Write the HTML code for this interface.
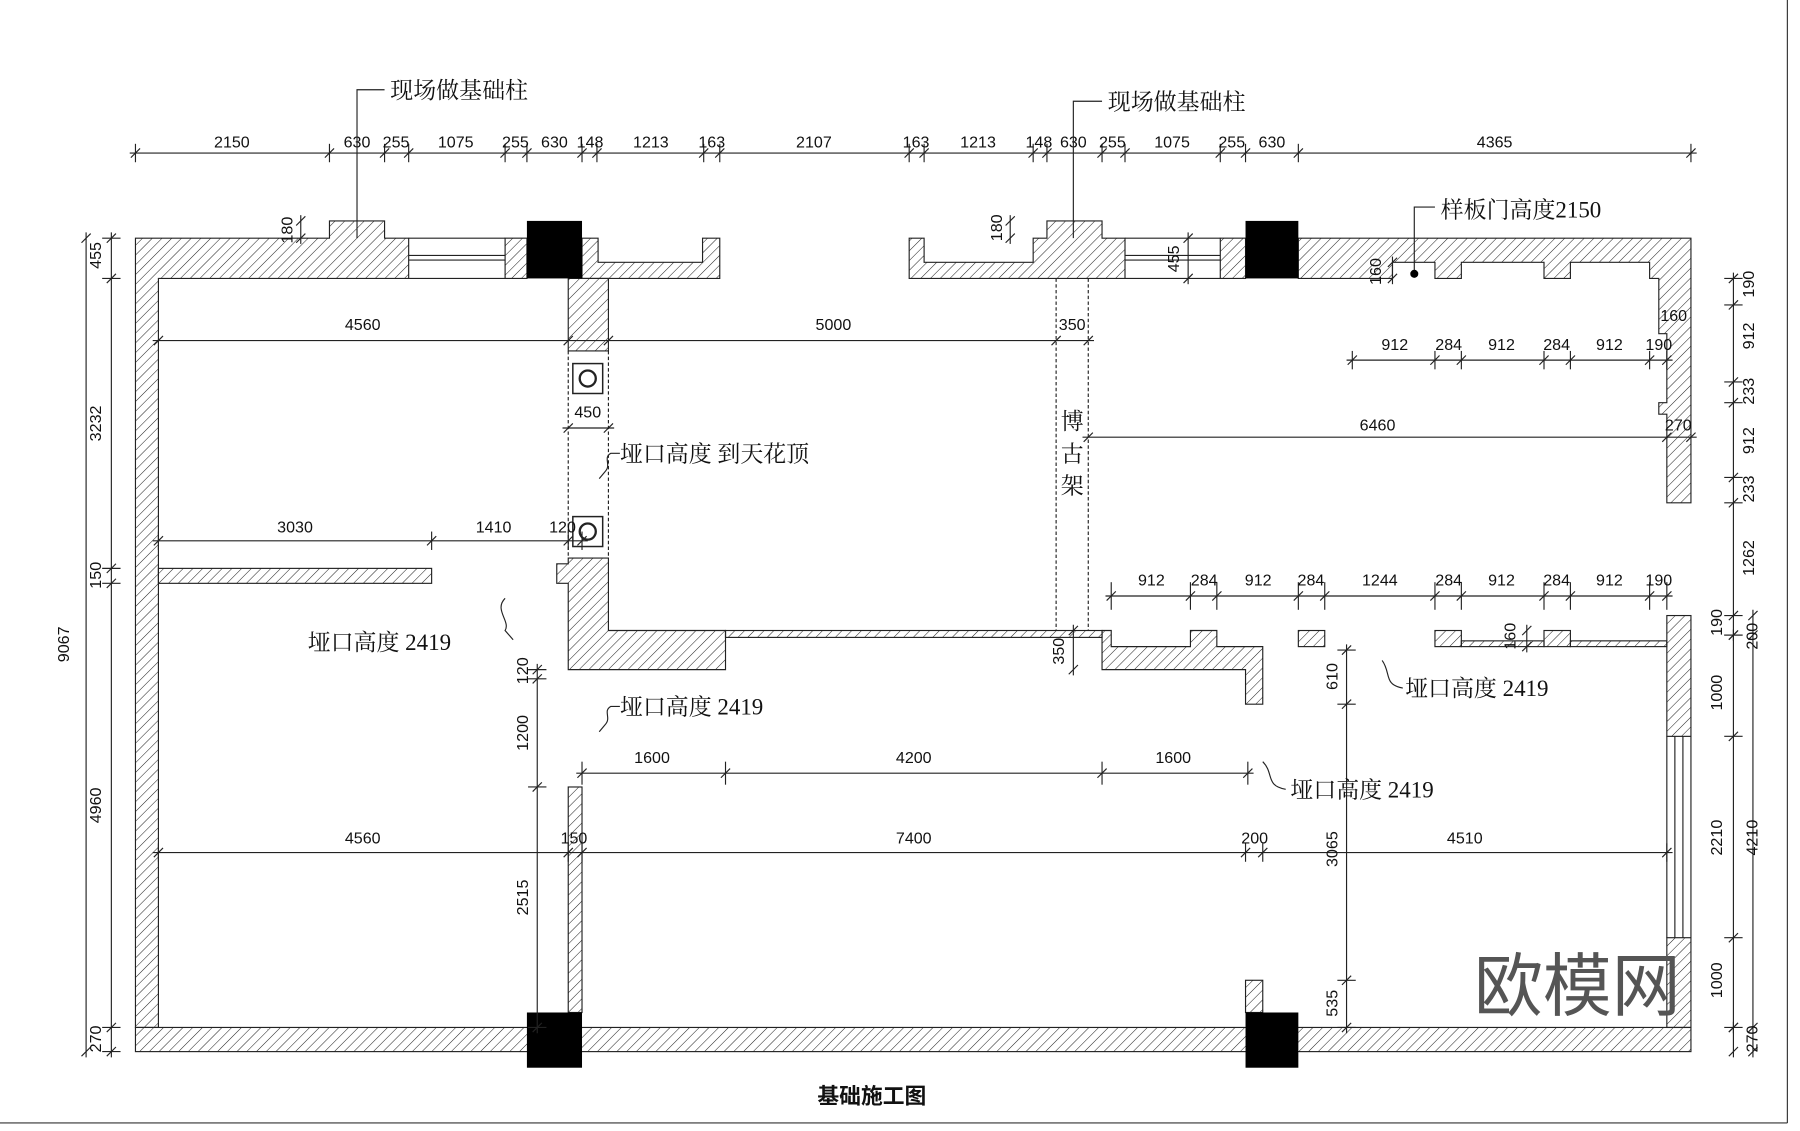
<!DOCTYPE html>
<html><head><meta charset="utf-8">
<style>
html,body{margin:0;padding:0;background:#fff;}
svg{display:block;}
.d{font-family:"Liberation Sans",sans-serif;font-size:14px;fill:#111;text-anchor:middle;}
.c{font-family:"Liberation Serif","Noto Serif CJK SC",serif;font-size:20px;fill:#111;}
</style></head>
<body>
<svg id="s" width="1800" height="1131" viewBox="0 0 1568 983" preserveAspectRatio="none" xmlns="http://www.w3.org/2000/svg">
<defs>
<pattern id="h" width="6" height="6" patternUnits="userSpaceOnUse" patternTransform="rotate(45)">
<line x1="0" y1="0" x2="0" y2="6" stroke="#222" stroke-width="0.9"/>
</pattern>
</defs>
<rect width="1568" height="983" fill="#fff"/>
<line x1="1557" y1="0" x2="1557" y2="976" stroke="#333"/>
<line x1="0" y1="976" x2="1557" y2="976" stroke="#333"/>

<g fill="url(#h)" stroke="#222" stroke-width="1">
<path d="M118 207 H287 V192 H335 V207 H356 V242 H138 V893 H118 Z"/>
<rect x="440" y="207" width="19" height="35"/>
<path d="M507 207 H521 V228 H612 V207 H627 V242 H507 Z"/>
<rect x="118" y="893" width="1355" height="21"/>
<rect x="495" y="242" width="35" height="63"/>
<path d="M495 485 H530 V548 H632 V582 H495 V507 H485 V490 H495 Z"/>
<rect x="632" y="548" width="328" height="6"/>
<rect x="138" y="494" width="238" height="13"/>
<rect x="495" y="684" width="12" height="196"/>
<rect x="1085" y="852" width="15" height="28"/>
<path d="M960 548 H968 V562 H1037 V548 H1060 V562 H1100 V612 H1085 V582 H960 Z"/>
<rect x="1131" y="548" width="23" height="14"/>
<rect x="1250" y="548" width="23" height="14"/>
<rect x="1273" y="557" width="72" height="5"/>
<rect x="1345" y="548" width="23" height="14"/>
<rect x="1368" y="557" width="84" height="5"/>
<path d="M792 207 H805 V228 H900 V207 H912 V192 H960 V207 H980 V242 H792 Z"/>
<rect x="1063" y="207" width="22" height="35"/>
<path d="M1131 207 H1473 V437 H1452 V360 H1445 V350 H1452 V290 H1445 V242 H1437 V228 H1368 V242 H1345 V228 H1273 V242 H1250 V228 H1213 V242 H1131 Z"/>
<rect x="1452" y="535" width="21" height="105"/>
<rect x="1452" y="815" width="21" height="78"/>
</g>
<g stroke="#222" fill="none" stroke-width="1">
<line x1="356" y1="207" x2="440" y2="207"/><line x1="356" y1="242" x2="440" y2="242"/>
<line x1="356" y1="222" x2="440" y2="222"/><line x1="356" y1="226" x2="440" y2="226"/>
<line x1="980" y1="207" x2="1063" y2="207"/><line x1="980" y1="242" x2="1063" y2="242"/>
<line x1="980" y1="222" x2="1063" y2="222"/><line x1="980" y1="226" x2="1063" y2="226"/>
<line x1="1452" y1="640" x2="1452" y2="815"/><line x1="1473" y1="640" x2="1473" y2="815"/>
<line x1="1459" y1="640" x2="1459" y2="815"/><line x1="1466" y1="640" x2="1466" y2="815"/>
<line x1="495" y1="305" x2="495" y2="485" stroke-dasharray="3,2"/>
<line x1="530" y1="305" x2="530" y2="485" stroke-dasharray="3,2"/>
<line x1="920" y1="242" x2="920" y2="548" stroke-dasharray="3,2"/>
<line x1="948" y1="242" x2="948" y2="548" stroke-dasharray="3,2"/>
<rect x="499" y="316" width="26" height="26" stroke-width="1.3"/>
<circle cx="512" cy="329" r="7" stroke-width="2"/>
<rect x="499" y="449" width="26" height="26" stroke-width="1.3"/>
<circle cx="512" cy="462" r="7" stroke-width="2"/>
</g>
<g fill="#000">
<rect x="459" y="192" width="48" height="50"/>
<rect x="1085" y="192" width="46" height="50"/>
<rect x="459" y="880" width="48" height="48"/>
<rect x="1085" y="880" width="46" height="48"/>
</g>
<g id="dims" stroke="#222" stroke-width="1" fill="none"></g>

<g class="d">
<text x="202" y="128">2150</text><text x="311" y="128">630</text><text x="345" y="128">255</text><text x="397" y="128">1075</text><text x="449" y="128">255</text><text x="483" y="128">630</text><text x="514" y="128">148</text><text x="567" y="128">1213</text><text x="620" y="128">163</text><text x="709" y="128">2107</text><text x="798" y="128">163</text><text x="852" y="128">1213</text><text x="905" y="128">148</text><text x="935" y="128">630</text><text x="969" y="128">255</text><text x="1021" y="128">1075</text><text x="1073" y="128">255</text><text x="1108" y="128">630</text><text x="1302" y="128">4365</text>
<text x="316" y="287">4560</text><text x="726" y="287">5000</text><text x="934" y="287">350</text>
<text x="512" y="363">450</text>
<text x="1215" y="304">912</text><text x="1262" y="304">284</text><text x="1308" y="304">912</text><text x="1356" y="304">284</text><text x="1402" y="304">912</text><text x="1445" y="304">190</text>
<text x="1458" y="279">160</text>
<text x="1200" y="374">6460</text><text x="1462" y="374">270</text>
<text x="257" y="463">3030</text><text x="430" y="463">1410</text><text x="490" y="463">120</text>
<text x="1003" y="509">912</text><text x="1049" y="509">284</text><text x="1096" y="509">912</text><text x="1142" y="509">284</text><text x="1202" y="509">1244</text><text x="1262" y="509">284</text><text x="1308" y="509">912</text><text x="1356" y="509">284</text><text x="1402" y="509">912</text><text x="1445" y="509">190</text>
<text x="568" y="663">1600</text><text x="796" y="663">4200</text><text x="1022" y="663">1600</text>
<text x="316" y="733">4560</text><text x="500" y="733">150</text><text x="796" y="733">7400</text><text x="1093" y="733">200</text><text x="1276" y="733">4510</text>
<text transform="translate(255,200) rotate(-90)">180</text>
<text transform="translate(873,198) rotate(-90)">180</text>
<text transform="translate(1027,225) rotate(-90)">455</text>
<text transform="translate(1203,236) rotate(-90)">160</text>
<text transform="translate(1320,553) rotate(-90)">160</text>
<text transform="translate(927,566) rotate(-90)">350</text>
<text transform="translate(460,583) rotate(-90)">120</text>
<text transform="translate(460,637) rotate(-90)">1200</text>
<text transform="translate(460,780) rotate(-90)">2515</text>
<text transform="translate(1165,588) rotate(-90)">610</text>
<text transform="translate(1165,738) rotate(-90)">3065</text>
<text transform="translate(1165,872) rotate(-90)">535</text>
<text transform="translate(88,222) rotate(-90)">455</text>
<text transform="translate(88,368) rotate(-90)">3232</text>
<text transform="translate(88,500) rotate(-90)">150</text>
<text transform="translate(88,700) rotate(-90)">4960</text>
<text transform="translate(88,903) rotate(-90)">270</text>
<text transform="translate(60,560) rotate(-90)">9067</text>
<text transform="translate(1528,247) rotate(-90)">190</text>
<text transform="translate(1528,292) rotate(-90)">912</text>
<text transform="translate(1528,340) rotate(-90)">233</text>
<text transform="translate(1528,383) rotate(-90)">912</text>
<text transform="translate(1528,425) rotate(-90)">233</text>
<text transform="translate(1528,485) rotate(-90)">1262</text>
<text transform="translate(1500,541) rotate(-90)">190</text>
<text transform="translate(1531,553) rotate(-90)">200</text>
<text transform="translate(1500,602) rotate(-90)">1000</text>
<text transform="translate(1500,728) rotate(-90)">2210</text>
<text transform="translate(1531,728) rotate(-90)">4210</text>
<text transform="translate(1500,852) rotate(-90)">1000</text>
<text transform="translate(1531,903) rotate(-90)">270</text>
</g>

<g stroke="#222" fill="none" stroke-width="1">
<path d="M311 207 V78 H335"/>
<path d="M935 207 V88 H960"/>
<path d="M1232 238 V180 H1250"/>
<path d="M540 394 H532 C525 398 533 404 527 410 L522 416"/>
<path d="M440 520 C430 530 445 540 440 548 L447 556"/>
<path d="M540 614 H532 C525 618 533 624 527 630 L522 636"/>
<path d="M1204 574 C1212 585 1205 595 1222 598"/>
<path d="M1100 662 C1110 672 1102 683 1120 686"/>
</g>
<circle cx="1232" cy="238" r="3.5" fill="#000"/>

<g class="c">
<text x="340" y="85">现场做基础柱</text>
<text x="965" y="95">现场做基础柱</text>
<text x="1255" y="189">样板门高度2150</text>
<text x="540" y="401">垭口高度 到天花顶</text>
<text x="268" y="565">垭口高度 2419</text>
<text x="540" y="621">垭口高度 2419</text>
<text x="1224" y="605">垭口高度 2419</text>
<text x="1124" y="693">垭口高度 2419</text>
<text x="924" y="373">博</text><text x="924" y="401">古</text><text x="924" y="429">架</text>
<text x="712" y="959" style="font-family:'Noto Sans CJK SC',sans-serif;font-size:19px;font-weight:bold">基础施工图</text>
<text x="1284" y="878" style="font-family:'Noto Sans CJK SC',sans-serif;font-size:60px;fill:#555">欧模网</text>
</g>
</svg>
<script>
(function(){
var g=document.getElementById('dims'),ns='http://www.w3.org/2000/svg';
function L(x1,y1,x2,y2){var l=document.createElementNS(ns,'line');l.setAttribute('x1',x1);l.setAttribute('y1',y1);l.setAttribute('x2',x2);l.setAttribute('y2',y2);g.appendChild(l);}
function H(y,xs,ext){L(xs[0]-5,y,xs[xs.length-1]+5,y);xs.forEach(function(x){L(x-4,y+4,x+4,y-4);if(ext)L(x,y-ext,x,y+ext);});}
function V(x,ys,ext){L(x,ys[0]-5,x,ys[ys.length-1]+5);ys.forEach(function(y){L(x-4,y+4,x+4,y-4);if(ext)L(x-ext,y,x+ext,y);});}
H(133,[118,287,335,356,440,459,507,520,613,627,792,805,900,912,960,980,1063,1085,1131,1473],8);
H(296,[138,495,530,920,948],0);
H(313,[1178,1250,1273,1345,1368,1437,1452],8);
H(380,[948,1452,1473],0);
H(372,[495,530],0);
H(470,[138,376,495,507],8);
H(518,[968,1037,1060,1131,1154,1250,1273,1345,1368,1437,1452],12);
H(672,[507,632,960,1087],10);
H(741,[138,495,507,1085,1100,1452],8);
V(97,[207,242,494,507,893,914],8);
V(75,[207,914],0);
V(1510,[242,265,332,350,415,437,535,552],8);
V(1527,[535,552,893,914],0);
V(1510,[552,640,815,893],8);
V(1510,[893,914],0);
V(262,[192,207],0);V(880,[192,207],0);V(1035,[207,242],0);V(1213,[228,242],0);V(1330,[548,562],0);
V(935,[548,582],0);
V(468,[582,590,684,893],8);
V(1173,[565,612,852,893],8);
})();
</script>
</body></html>
